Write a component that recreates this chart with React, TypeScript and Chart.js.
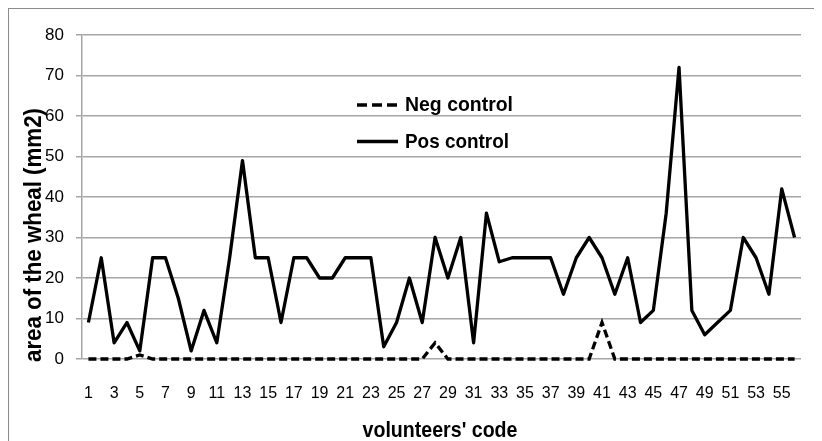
import React, { useEffect, useRef } from "react";
import { Chart, registerables } from "chart.js";

Chart.register(...registerables);

const codes: string[] = Array.from({ length: 56 }, (_, i) => String(i + 1));

const negControl: number[] = [
  0, 0, 0, 0, 1, 0, 0, 0, 0, 0,
  0, 0, 0, 0, 0, 0, 0, 0, 0, 0,
  0, 0, 0, 0, 0, 0, 0, 4, 0, 0,
  0, 0, 0, 0, 0, 0, 0, 0, 0, 0,
  9, 0, 0, 0, 0, 0, 0, 0, 0, 0,
  0, 0, 0, 0, 0, 0,
];

const posControl: number[] = [
  9, 25, 4, 9, 2, 25, 25, 15, 2, 12,
  4, 25, 49, 25, 25, 9, 25, 25, 20, 20,
  25, 25, 25, 3, 9, 20, 9, 30, 20, 30,
  4, 36, 24, 25, 25, 25, 25, 16, 25, 30,
  25, 16, 25, 9, 12, 36, 72, 12, 6, 9,
  12, 30, 25, 16, 42, 30,
];

const yTicks: number[] = [0, 10, 20, 30, 40, 50, 60, 70, 80];

const seriesNames: string[] = ["Neg control", "Pos control"];
const xTitle = "volunteers' code";
const yTitle = "area of the wheal (mm2)";

const FONT = "'Liberation Sans', Arial, sans-serif";

function fitText(
  ctx: CanvasRenderingContext2D,
  text: string,
  x: number,
  y: number,
  size: number,
  width: number,
  align: "left" | "center"
) {
  ctx.save();
  ctx.font = `bold ${size}px ${FONT}`;
  const w = ctx.measureText(text).width;
  const sx = Math.min(1, width / w);
  ctx.translate(x, y);
  ctx.scale(sx, 1);
  ctx.textAlign = align;
  ctx.textBaseline = "alphabetic";
  ctx.fillText(text, 0, 0);
  ctx.restore();
}

const overlayPlugin = {
  id: "overlayText",
  afterDraw(chart: any) {
    const ctx = chart.ctx as CanvasRenderingContext2D;
    ctx.save();
    // legend
    ctx.strokeStyle = "#000";
    ctx.lineWidth = 3.3;
    ctx.lineCap = "butt";
    ctx.setLineDash([10, 5]);
    ctx.beginPath();
    ctx.moveTo(348, 96);
    ctx.lineTo(389, 96);
    ctx.stroke();
    ctx.setLineDash([]);
    ctx.beginPath();
    ctx.moveTo(348, 132.5);
    ctx.lineTo(389, 132.5);
    ctx.stroke();
    ctx.fillStyle = "#000";
    fitText(ctx, seriesNames[0], 396, 102, 21, 108, "left");
    fitText(ctx, seriesNames[1], 396, 139, 21, 104, "left");
    // x title
    fitText(ctx, xTitle, 431, 428, 22, 155, "center");
    // y title
    ctx.translate(32, 226);
    ctx.rotate(-Math.PI / 2);
    fitText(ctx, yTitle, 0, 0, 23, 254, "center");
    ctx.restore();
  },
};

export default function App() {
  const ref = useRef<HTMLCanvasElement | null>(null);
  useEffect(() => {
    if (!ref.current) return;
    Chart.defaults.font.family = FONT;
    const chart = new Chart(ref.current, {
      type: "line",
      data: {
        labels: codes,
        datasets: [
          {
            label: seriesNames[1],
            data: posControl,
            borderColor: "#000",
            borderWidth: 3.3,
            pointRadius: 0,
            tension: 0,
            borderJoinStyle: "round",
            fill: false,
            clip: 10,
          },
          {
            label: seriesNames[0],
            data: negControl,
            borderColor: "#000",
            borderWidth: 3.3,
            borderDash: [8, 4],
            pointRadius: 0,
            tension: 0,
            fill: false,
            clip: 10,
          },
        ],
      },
      options: {
        responsive: false,
        animation: false,
        events: [],
        layout: { padding: { left: 0, right: 21, top: 26, bottom: 0 } },
        plugins: { legend: { display: false }, tooltip: { enabled: false }, title: { display: false } },
        scales: {
          x: {
            type: "category",
            offset: true,
            grid: { display: false, drawTicks: false },
            border: { display: false },
            ticks: {
              autoSkip: false,
              maxRotation: 0,
              minRotation: 0,
              padding: 25,
              color: "#000",
              font: { size: 16, family: FONT },
              callback: (_v: any, i: number) => (i % 2 === 0 ? codes[i] : ""),
            },
            afterFit: (s: any) => {
              s.height = 82;
            },
          },
          y: {
            min: 0,
            max: 80,
            afterBuildTicks: (s: any) => {
              s.ticks = yTicks.map((v) => ({ value: v }));
            },
            grid: { color: "#a6a6a6", lineWidth: 1.5, tickLength: 6, drawTicks: true },
            border: { display: true, color: "#a6a6a6", width: 1.5 },
            ticks: {
              padding: 12,
              color: "#000",
              font: { size: 17, family: FONT },
            },
            afterFit: (s: any) => {
              s.width = 73;
            },
          },
        },
      },
      plugins: [overlayPlugin],
    });
    return () => chart.destroy();
  }, []);
  return (
    <div
      style={{
        position: "relative",
        width: 813,
        height: 432,
        borderLeft: "1px solid #8c8c8c",
        borderTop: "1px solid #8c8c8c",
        background: "#fff",
      }}
    >
      <canvas ref={ref} width={813} height={432} style={{ display: "block" }} />
    </div>
  );
}
